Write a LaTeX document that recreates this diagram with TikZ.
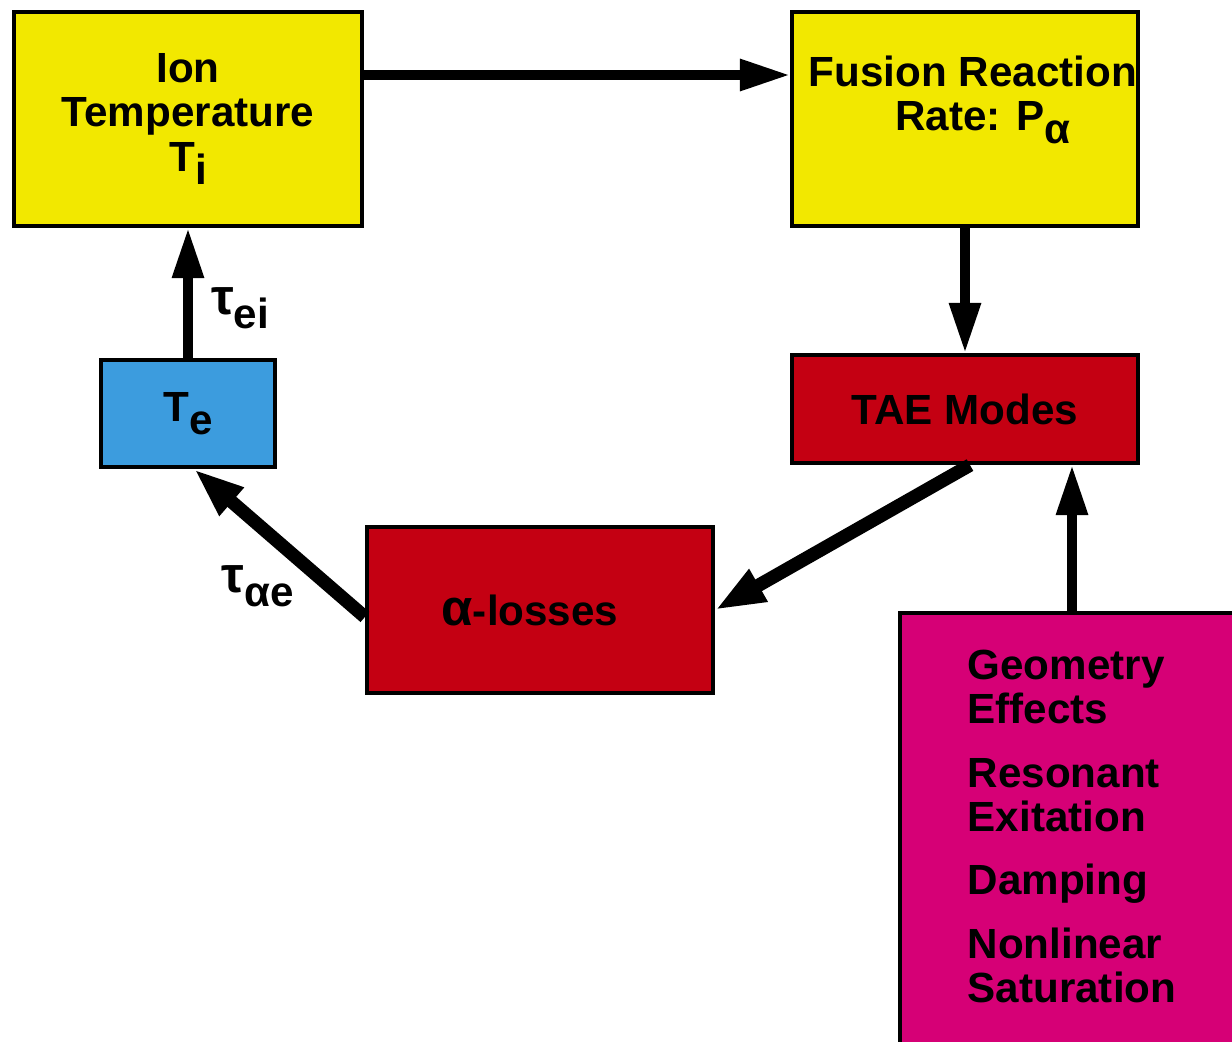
\documentclass[tikz,border=0pt]{standalone}
\usepackage{fontspec}
\setmainfont{Liberation Sans}
\usepackage{tikz}
\usetikzlibrary{arrows.meta,positioning,calc}

\definecolor{boxyellow}{RGB}{242,232,0}
\definecolor{boxblue}{RGB}{60,156,222}
\definecolor{boxred}{RGB}{196,0,18}
\definecolor{boxmagenta}{RGB}{214,0,118}

\newcommand{\lowsub}[1]{\raisebox{-0.32em}{#1}}
\newcommand{\biggreek}[1]{{\fontsize{14.5}{14.5}\selectfont #1}}

\begin{document}
\begin{tikzpicture}[
	txt/.style={font=\fontsize{12}{12.6}\selectfont\bfseries, inner sep=0pt},
	box/.style={draw=black, line width=1.2pt, align=center, txt},
	flow/.style={-{Triangle[length=0.5cm,width=0.3cm]}, line width=2.6pt},
	fatflow/.style={-{Triangle[length=0.5cm,width=0.34cm]}, line width=3.8pt}
	]
		\clip (0,0) rectangle (12.32,-10.42);

		% boxes
		\node[box, fill=boxyellow, minimum width=3.48cm, minimum height=2.14cm] (ion) at (1.88,-1.19) {Ion\\Temperature\\T\lowsub{i}};
		\node[box, fill=boxyellow, minimum width=3.46cm, minimum height=2.14cm] (fusion) at (9.65,-1.19) {};
		\node[txt, align=center] (fusiontxt) at (9.73,-1.0) {Fusion Reaction\\\hspace*{0.2cm}Rate: P\lowsub{α}};
		\node[box, fill=boxblue, minimum width=1.74cm, minimum height=1.07cm] (te) at (1.88,-4.135) {T\lowsub{e}};
		\node[box, fill=boxred, minimum width=3.46cm, minimum height=1.08cm] (tae) at (9.65,-4.09) {TAE Modes};
		\node[box, fill=boxred, minimum width=3.46cm, minimum height=1.66cm] (alpha) at (5.40,-6.10) {\biggreek{α}-losses\hspace*{0.2cm}};
		\node[box, fill=boxmagenta, minimum width=3.6cm, minimum height=4.57cm] (geom) at (10.8,-8.415) {};
		\node[txt, align=left, anchor=north west] (geomtxt) at (9.67,-6.49)
			{Geometry\\Effects\\[5.5pt]Resonant\\Exitation\\[5.5pt]Damping\\[5.5pt]Nonlinear\\Saturation};

		% rates
		\node[txt] (tauei) at (2.40,-3.08) {\biggreek{τ}\lowsub{ei}};
		\node[txt] (tauae) at (2.58,-5.86) {\biggreek{τ}\lowsub{αe}};

		% arrows
		\coordinate (taefoot) at ([xshift=1.07cm]tae.south);
		\draw[flow] ([yshift=0.44cm]ion.east) -- ([yshift=0.44cm]fusion.west);
		\draw[flow] (fusion.south) -- (tae.north);
		\draw[fatflow] ([xshift=0.05cm]tae.south) -- (alpha.east);
		\draw[fatflow] ([yshift=-0.07cm]alpha.west) -- ([xshift=0.06cm]te.south);
		\draw[flow] (te.north) -- (ion.south);
		\draw[flow] (taefoot |- geom.north) -- (taefoot);
	\end{tikzpicture}
\end{document}
